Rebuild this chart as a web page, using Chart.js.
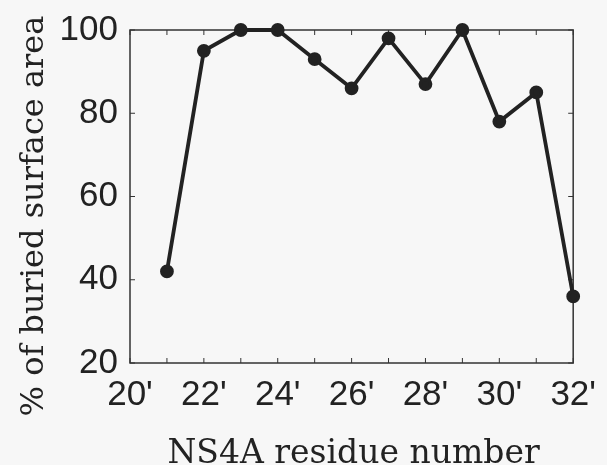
<!DOCTYPE html>
<html lang="en">
<head>
  <meta charset="UTF-8">
  <title>Buried surface area per NS4A residue</title>
  <script src="https://cdn.jsdelivr.net/npm/chart.js"></script>
  <style>
    body { margin: 0; background: #f7f7f7; }
    canvas { display: block; }
  </style>
</head>
<body>
  <canvas id="chart" width="607" height="465"></canvas>
  <script>
    const residues = [21, 22, 23, 24, 25, 26, 27, 28, 29, 30, 31, 32];
    const buried = [42, 95, 100, 100, 93, 86, 98, 87, 100, 78, 85, 36];
    const xLabelValues = [20, 22, 24, 26, 28, 30, 32];
    const yLabelValues = [20, 40, 60, 80, 100];
    const xTitle = 'NS4A residue number';
    const yTitle = '% of buried surface area';

    const ink = '#222';

    // box round the plot, inward ticks on all four sides, axis titles
    const frame = {
      id: 'frame',
      beforeDatasetsDraw(chart) {
        const { ctx, chartArea: a, scales: { x, y } } = chart;
        const len = 5;
        ctx.save();
        ctx.strokeStyle = '#333';
        ctx.lineWidth = 1.5;
        ctx.strokeRect(a.left, a.top, a.right - a.left, a.bottom - a.top);
        ctx.lineWidth = 1;
        ctx.beginPath();
        x.ticks.forEach(t => {
          const px = x.getPixelForValue(t.value);
          ctx.moveTo(px, a.bottom); ctx.lineTo(px, a.bottom - len);
          ctx.moveTo(px, a.top); ctx.lineTo(px, a.top + len);
        });
        y.ticks.forEach(t => {
          const py = y.getPixelForValue(t.value);
          ctx.moveTo(a.left, py); ctx.lineTo(a.left + len, py);
          ctx.moveTo(a.right, py); ctx.lineTo(a.right - len, py);
        });
        ctx.stroke();
        ctx.restore();
      },
      afterDraw(chart) {
        const { ctx, chartArea: a } = chart;
        ctx.save();
        ctx.fillStyle = ink;
        ctx.font = '33px "DejaVu Serif"';
        ctx.textAlign = 'center';
        ctx.textBaseline = 'alphabetic';
        ctx.fillText(xTitle, (a.left + a.right) / 2 + 2, 463);
        ctx.font = '32px "DejaVu Serif"';
        ctx.translate(43, 216);
        ctx.rotate(-Math.PI / 2);
        ctx.fillText(yTitle, 0, 0);
        ctx.restore();
      }
    };

    new Chart(document.getElementById('chart'), {
      type: 'line',
      data: {
        datasets: [{
          data: residues.map((r, i) => ({ x: r, y: buried[i] })),
          borderColor: ink,
          borderWidth: 3.8,
          pointRadius: 5,
          pointBackgroundColor: ink,
          pointBorderColor: ink,
          tension: 0,
          clip: false
        }]
      },
      options: {
        responsive: false,
        animation: false,
        layout: { padding: { top: 30, right: 33, left: 0, bottom: 0 } },
        plugins: { legend: { display: false }, tooltip: { enabled: false } },
        scales: {
          x: {
            type: 'linear',
            min: 20,
            max: 32,
            grid: { display: false, drawTicks: false },
            border: { display: false },
            ticks: {
              stepSize: 1,
              autoSkip: false,
              maxRotation: 0,
              padding: 11,
              color: ink,
              font: { family: '"Liberation Sans"', size: 35 },
              callback: v => xLabelValues.includes(v) ? v + "'" : ''
            },
            afterFit: s => { s.height = 102; }
          },
          y: {
            min: 20,
            max: 100,
            grid: { display: false, drawTicks: false },
            border: { display: false },
            ticks: {
              stepSize: 10,
              padding: 12,
              color: ink,
              font: { family: '"Liberation Sans"', size: 35 },
              callback: v => yLabelValues.includes(v) ? v : ''
            },
            afterFit: s => { s.width = 130; s.paddingTop = 0; s.paddingBottom = 0; }
          }
        }
      },
      plugins: [frame]
    });
  </script>
</body>
</html>
